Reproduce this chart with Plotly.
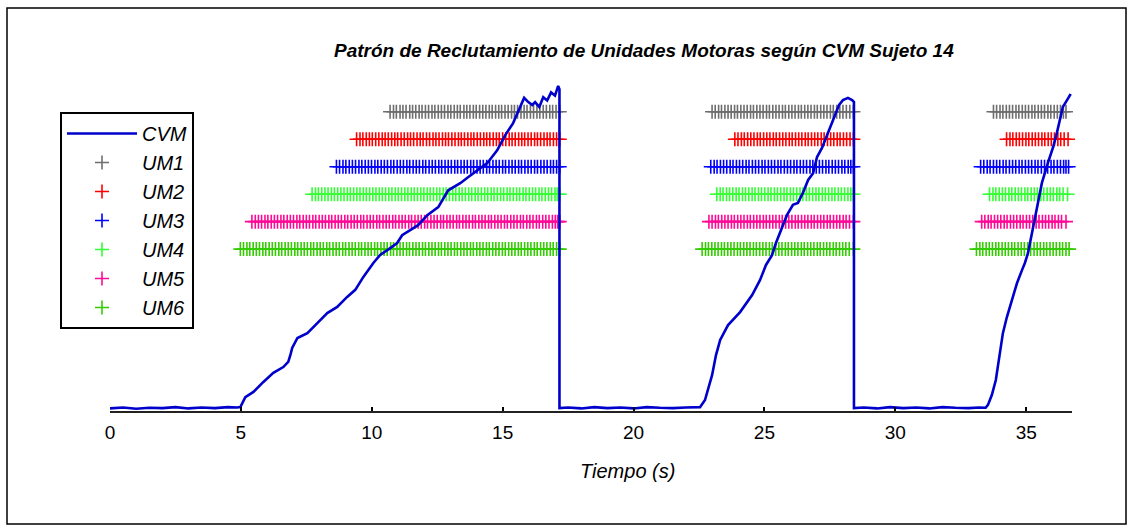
import plotly.graph_objects as go

# ---- CVM force trace (normalised, % of the peak of the first contraction) ----
cvm_t = [
    0.00, 0.50, 1.00, 1.50, 2.00, 2.50, 3.00, 3.50, 4.00, 4.50, 4.85,
    4.98, 5.17, 5.48, 5.86, 6.24, 6.62, 6.81, 6.90, 6.96, 7.16, 7.54, 7.92,
    8.30, 8.68, 9.06, 9.37, 9.68, 10.06, 10.32, 10.65, 10.97, 11.16, 11.35,
    11.77, 12.12, 12.54, 12.92, 13.38, 13.69, 14.03, 14.41, 14.79, 15.10,
    15.40, 15.75, 15.82, 15.98, 16.13, 16.24, 16.40, 16.55, 16.70, 16.85,
    17.00, 17.12, 17.17, 17.17,
    17.50, 18.00, 18.50, 19.00, 19.50, 20.00, 20.50, 21.00, 21.50, 22.00, 22.47,
    22.54, 22.73, 22.85, 23.00, 23.15, 23.31, 23.61, 24.07, 24.53, 24.83,
    25.06, 25.29, 25.44, 25.60, 25.86, 26.09, 26.28, 26.47, 26.67, 26.86,
    27.01, 27.20, 27.32, 27.51, 27.70, 27.85, 28.00, 28.19, 28.35, 28.42, 28.42,
    28.80, 29.30, 29.80, 30.30, 30.80, 31.30, 31.80, 32.30, 32.80, 33.20, 33.45,
    33.54, 33.69, 33.84, 34.00, 34.11, 34.26, 34.45, 34.65, 34.84, 34.95,
    35.07, 35.22, 35.41, 35.60, 35.83, 36.03, 36.17, 36.29, 36.40, 36.56, 36.70,
]
cvm_v = [
    0.2, 0.5, 0.1, 0.4, 0.3, 0.6, 0.2, 0.5, 0.3, 0.6, 0.5,
    0.6, 3.7, 5.3, 8.4, 11.2, 13.0, 14.6, 17.0, 18.9, 22.0, 23.5, 26.6,
    29.7, 31.6, 34.7, 36.9, 40.9, 45.2, 47.7, 49.5, 51.4, 53.8, 54.7,
    56.9, 60.0, 62.5, 67.7, 69.9, 71.8, 73.9, 76.1, 80.1, 84.8,
    88.5, 94.7, 96.3, 95.0, 94.1, 95.0, 93.5, 96.5, 95.5, 98.0,
    97.0, 100.0, 99.0, 0.3,
    0.5, 0.2, 0.6, 0.3, 0.5, 0.2, 0.6, 0.4, 0.3, 0.5, 0.4,
    0.6, 2.8, 5.9, 10.5, 16.7, 21.4, 26.0, 30.0, 35.3, 39.9,
    44.6, 47.6, 51.4, 54.8, 60.0, 63.2, 63.8, 66.9, 70.9, 73.0,
    78.0, 80.8, 83.3, 87.3, 91.6, 94.1, 95.6, 96.3, 95.6, 95.0, 0.3,
    0.5, 0.2, 0.6, 0.3, 0.5, 0.2, 0.6, 0.4, 0.3, 0.5, 0.4,
    1.3, 4.4, 9.0, 17.4, 23.5, 28.4, 33.6, 39.0, 43.0, 45.2,
    48.3, 54.5, 62.5, 70.0, 76.2, 81.1, 85.4, 89.5, 93.5, 95.6, 97.5,
]

# ---- Motor-unit firing times (s), three contractions each ----
um1_times = [
    10.70, 10.83, 10.94, 11.08, 11.19, 11.31, 11.45, 11.56, 11.68, 11.81, 11.92, 12.05,
    12.17, 12.30, 12.41, 12.54, 12.66, 12.78, 12.91, 13.02, 13.15, 13.27, 13.38, 13.52,
    13.63, 13.75, 13.88, 13.99, 14.12, 14.24, 14.36, 14.49, 14.60, 14.73, 14.85, 14.96,
    15.09, 15.21, 15.34, 15.45, 15.57, 15.70, 15.82, 15.93, 16.06, 16.18, 16.31, 16.42,
    16.55, 16.67, 16.80, 16.91, 17.04, 17.18,
    23.00, 23.12, 23.25, 23.36, 23.49, 23.61, 23.73, 23.86, 23.97, 24.10, 24.22, 24.34,
    24.47, 24.58, 24.71, 24.83, 24.95, 25.08, 25.19, 25.32, 25.44, 25.56, 25.69, 25.80,
    25.93, 26.05, 26.17, 26.30, 26.41, 26.54, 26.66, 26.78, 26.91, 27.02, 27.15, 27.27,
    27.39, 27.52, 27.63, 27.76, 27.88, 28.00, 28.13, 28.26, 28.40,
    33.75, 33.87, 34.00, 34.11, 34.24, 34.36, 34.48, 34.61, 34.72, 34.85, 34.97, 35.09,
    35.22, 35.33, 35.46, 35.58, 35.70, 35.83, 35.94, 36.07, 36.19, 36.31, 36.42, 36.52,
]
um2_times = [
    9.42, 9.55, 9.66, 9.79, 9.91, 10.02, 10.15, 10.27, 10.40, 10.51, 10.63, 10.76,
    10.88, 10.99, 11.12, 11.24, 11.37, 11.48, 11.60, 11.73, 11.85, 11.96, 12.09, 12.21,
    12.34, 12.45, 12.57, 12.70, 12.82, 12.93, 13.06, 13.18, 13.31, 13.42, 13.54, 13.67,
    13.79, 13.90, 14.03, 14.15, 14.28, 14.39, 14.51, 14.64, 14.76, 14.87, 15.00, 15.12,
    15.25, 15.36, 15.48, 15.61, 15.73, 15.84, 15.97, 16.09, 16.22, 16.33, 16.45, 16.58,
    16.70, 16.81, 16.94, 17.06, 17.18,
    23.87, 23.99, 24.12, 24.23, 24.36, 24.48, 24.60, 24.73, 24.84, 24.97, 25.09, 25.21,
    25.34, 25.45, 25.58, 25.70, 25.82, 25.95, 26.06, 26.19, 26.31, 26.43, 26.56, 26.67,
    26.80, 26.92, 27.04, 27.17, 27.28, 27.41, 27.53, 27.65, 27.78, 27.89, 28.02, 28.14,
    28.27, 28.40,
    34.25, 34.38, 34.49, 34.62, 34.74, 34.86, 34.99, 35.10, 35.23, 35.35, 35.47, 35.60,
    35.71, 35.84, 35.96, 36.08, 36.21, 36.32, 36.45, 36.60,
]
um3_times = [
    8.65, 8.77, 8.90, 9.01, 9.14, 9.26, 9.38, 9.51, 9.62, 9.75, 9.87, 9.99,
    10.12, 10.23, 10.36, 10.48, 10.60, 10.73, 10.84, 10.97, 11.09, 11.21, 11.34, 11.45,
    11.58, 11.70, 11.82, 11.95, 12.06, 12.19, 12.31, 12.43, 12.56, 12.67, 12.80, 12.92,
    13.04, 13.17, 13.28, 13.41, 13.53, 13.65, 13.78, 13.89, 14.02, 14.14, 14.26, 14.39,
    14.50, 14.63, 14.75, 14.87, 15.00, 15.11, 15.24, 15.36, 15.48, 15.61, 15.72, 15.85,
    15.97, 16.09, 16.22, 16.33, 16.46, 16.58, 16.70, 16.83, 16.94, 17.06, 17.18,
    22.95, 23.08, 23.19, 23.32, 23.44, 23.56, 23.69, 23.80, 23.93, 24.05, 24.17, 24.30,
    24.41, 24.54, 24.66, 24.78, 24.91, 25.02, 25.15, 25.27, 25.39, 25.52, 25.63, 25.76,
    25.88, 26.00, 26.13, 26.24, 26.37, 26.49, 26.61, 26.74, 26.85, 26.98, 27.10, 27.22,
    27.35, 27.46, 27.59, 27.71, 27.83, 27.96, 28.07, 28.20, 28.30, 28.40,
    33.26, 33.38, 33.51, 33.62, 33.75, 33.87, 33.99, 34.12, 34.23, 34.36, 34.48, 34.60,
    34.73, 34.84, 34.97, 35.09, 35.21, 35.34, 35.45, 35.58, 35.70, 35.82, 35.95, 36.06,
    36.19, 36.31, 36.43, 36.52, 36.62,
]
um4_times = [
    7.72, 7.85, 7.96, 8.09, 8.21, 8.33, 8.46, 8.57, 8.70, 8.82, 8.94, 9.07,
    9.18, 9.31, 9.43, 9.55, 9.68, 9.79, 9.92, 10.04, 10.16, 10.29, 10.40, 10.53,
    10.65, 10.77, 10.90, 11.01, 11.14, 11.26, 11.38, 11.51, 11.62, 11.75, 11.87, 11.99,
    12.12, 12.23, 12.36, 12.48, 12.60, 12.73, 12.84, 12.97, 13.09, 13.21, 13.34, 13.45,
    13.58, 13.70, 13.82, 13.95, 14.06, 14.19, 14.31, 14.43, 14.56, 14.67, 14.80, 14.92,
    15.04, 15.17, 15.28, 15.41, 15.53, 15.65, 15.78, 15.89, 16.02, 16.14, 16.26, 16.39,
    16.50, 16.63, 16.75, 16.87, 17.00, 17.09, 17.18,
    23.18, 23.31, 23.42, 23.55, 23.67, 23.79, 23.92, 24.03, 24.16, 24.28, 24.40, 24.53,
    24.64, 24.77, 24.89, 25.01, 25.14, 25.25, 25.38, 25.50, 25.62, 25.75, 25.86, 25.99,
    26.11, 26.23, 26.36, 26.47, 26.60, 26.72, 26.84, 26.97, 27.08, 27.21, 27.33, 27.45,
    27.58, 27.69, 27.82, 27.94, 28.06, 28.19, 28.30, 28.40,
    33.60, 33.73, 33.84, 33.97, 34.09, 34.21, 34.34, 34.45, 34.58, 34.70, 34.82, 34.95,
    35.06, 35.19, 35.31, 35.43, 35.56, 35.67, 35.80, 35.92, 36.04, 36.17, 36.28, 36.41,
    36.58,
]
um5_times = [
    5.42, 5.55, 5.67, 5.79, 5.92, 6.03, 6.16, 6.28, 6.40, 6.53, 6.64, 6.77,
    6.89, 7.01, 7.14, 7.25, 7.38, 7.50, 7.62, 7.75, 7.86, 7.99, 8.11, 8.23,
    8.36, 8.47, 8.60, 8.72, 8.84, 8.97, 9.08, 9.21, 9.33, 9.45, 9.58, 9.69,
    9.82, 9.94, 10.06, 10.19, 10.30, 10.43, 10.55, 10.67, 10.80, 10.91, 11.04, 11.16,
    11.28, 11.41, 11.52, 11.65, 11.77, 11.89, 12.02, 12.13, 12.26, 12.38, 12.50, 12.63,
    12.74, 12.87, 12.99, 13.11, 13.24, 13.35, 13.48, 13.60, 13.72, 13.85, 13.96, 14.09,
    14.21, 14.33, 14.46, 14.57, 14.70, 14.82, 14.94, 15.07, 15.18, 15.31, 15.43, 15.55,
    15.68, 15.79, 15.92, 16.04, 16.16, 16.29, 16.40, 16.53, 16.65, 16.77, 16.90, 17.01,
    17.10, 17.18,
    22.88, 23.00, 23.13, 23.24, 23.37, 23.49, 23.61, 23.74, 23.85, 23.98, 24.10, 24.22,
    24.35, 24.46, 24.59, 24.71, 24.83, 24.96, 25.07, 25.20, 25.32, 25.44, 25.57, 25.68,
    25.81, 25.93, 26.05, 26.18, 26.29, 26.42, 26.54, 26.66, 26.79, 26.90, 27.03, 27.15,
    27.27, 27.40, 27.51, 27.64, 27.76, 27.88, 28.01, 28.12, 28.25, 28.40,
    33.30, 33.42, 33.55, 33.66, 33.79, 33.91, 34.03, 34.16, 34.27, 34.40, 34.52, 34.64,
    34.77, 34.88, 35.01, 35.13, 35.25, 35.38, 35.49, 35.62, 35.74, 35.86, 35.99, 36.10,
    36.23, 36.35, 36.52,
]
um6_times = [
    4.98, 5.10, 5.23, 5.34, 5.47, 5.59, 5.71, 5.84, 5.95, 6.08, 6.20, 6.32,
    6.45, 6.56, 6.69, 6.81, 6.93, 7.06, 7.17, 7.30, 7.42, 7.54, 7.67, 7.78,
    7.91, 8.03, 8.15, 8.28, 8.39, 8.52, 8.64, 8.76, 8.89, 9.00, 9.13, 9.25,
    9.37, 9.50, 9.61, 9.74, 9.86, 9.98, 10.11, 10.22, 10.35, 10.47, 10.59, 10.72,
    10.83, 10.96, 11.08, 11.20, 11.33, 11.44, 11.57, 11.69, 11.81, 11.94, 12.05, 12.18,
    12.30, 12.42, 12.55, 12.66, 12.79, 12.91, 13.03, 13.16, 13.27, 13.40, 13.52, 13.64,
    13.77, 13.88, 14.01, 14.13, 14.25, 14.38, 14.49, 14.62, 14.74, 14.86, 14.99, 15.10,
    15.23, 15.35, 15.47, 15.60, 15.71, 15.84, 15.96, 16.08, 16.21, 16.32, 16.45, 16.57,
    16.69, 16.82, 16.93, 17.06, 17.18,
    22.62, 22.75, 22.86, 22.99, 23.11, 23.23, 23.36, 23.47, 23.60, 23.72, 23.84, 23.97,
    24.08, 24.21, 24.33, 24.45, 24.58, 24.69, 24.82, 24.94, 25.06, 25.19, 25.30, 25.43,
    25.55, 25.67, 25.80, 25.91, 26.04, 26.16, 26.28, 26.41, 26.52, 26.65, 26.77, 26.89,
    27.02, 27.13, 27.26, 27.38, 27.50, 27.63, 27.74, 27.87, 27.99, 28.11, 28.24, 28.40,
    33.10, 33.23, 33.34, 33.47, 33.59, 33.71, 33.84, 33.95, 34.08, 34.20, 34.32, 34.45,
    34.56, 34.69, 34.81, 34.93, 35.06, 35.17, 35.30, 35.42, 35.54, 35.67, 35.78, 35.91,
    36.03, 36.15, 36.28, 36.39, 36.52, 36.64,
]

um_names = ["UM1", "UM2", "UM3", "UM4", "UM5", "UM6"]
um_levels = [92.0, 83.5, 75.0, 66.5, 58.0, 49.5]
um_colors = ["#6e6e6e", "#ff0000", "#0000ff", "#33ff33", "#ff0a96", "#33cc00"]
um_trains = [um1_times, um2_times, um3_times, um4_times, um5_times, um6_times]

tick_vals = [0, 5, 10, 15, 20, 25, 30, 35]
tick_text = ["0", "5", "10", "15", "20", "25", "30", "35"]

FONT = "Arial, Liberation Sans, sans-serif"

fig = go.Figure()

# one row of '+' markers per motor unit
for rank, (name, level, color, times) in enumerate(
        zip(um_names, um_levels, um_colors, um_trains), start=2):
    fig.add_trace(go.Scatter(
        x=times, y=[level] * len(times), mode="markers", name=name,
        legendgroup=name, legendrank=rank, cliponaxis=False,
        marker=dict(symbol="cross-thin", size=10, color=color,
                    line=dict(width=1.6, color=color)),
    ))

# force curve drawn last so it sits on top of the firing rows
fig.add_trace(go.Scatter(
    x=cvm_t, y=cvm_v, mode="lines", name="CVM", legendgroup="CVM",
    legendrank=1, cliponaxis=False,
    line=dict(color="#0000cd", width=2.6),
))

L, R, T, B = 110, 61, 84, 120
W, H = 1133, 531
pw, ph = W - L - R, H - T - B


def px(x):
    return (x - L) / pw


def py(y):
    return (H - B - y) / ph


fig.update_layout(
    width=W, height=H,
    margin=dict(l=L, r=R, t=T, b=B),
    paper_bgcolor="white", plot_bgcolor="white",
    font=dict(family=FONT, color="black"),
    showlegend=True,
    legend=dict(
        x=px(60), y=py(112), xanchor="left", yanchor="top",
        bordercolor="black", borderwidth=2, bgcolor="white",
        font=dict(size=20, style="italic", family=FONT),
        traceorder="grouped", tracegroupgap=0, itemwidth=70,
    ),
    xaxis=dict(
        range=[0, 36.75], tickvals=tick_vals, ticktext=tick_text,
        ticks="inside", ticklen=4, tickwidth=1.5, tickcolor="black",
        showline=True, linecolor="#222222", linewidth=2,
        showgrid=False, zeroline=False, ticklabelstandoff=3,
        tickfont=dict(size=19, family=FONT, color="black"),
    ),
    yaxis=dict(range=[-0.6, 100.6], visible=False, showgrid=False,
               zeroline=False),
    annotations=[
        dict(text="<b><i>Patrón de Reclutamiento de Unidades Motoras según CVM Sujeto 14</i></b>",
             x=px(644), y=py(50), xref="paper", yref="paper",
             xanchor="center", yanchor="middle", showarrow=False,
             font=dict(size=19, family=FONT, color="black")),
        dict(text="<i>Tiempo (s)</i>",
             x=px(627), y=py(471), xref="paper", yref="paper",
             xanchor="center", yanchor="middle", showarrow=False,
             font=dict(size=20, family=FONT, color="black")),
    ],
    shapes=[
        dict(type="rect", xref="paper", yref="paper",
             x0=px(7), x1=px(1126), y0=py(524), y1=py(8),
             line=dict(color="black", width=1.5), layer="below"),
    ],
)

fig.write_html("out.html")
